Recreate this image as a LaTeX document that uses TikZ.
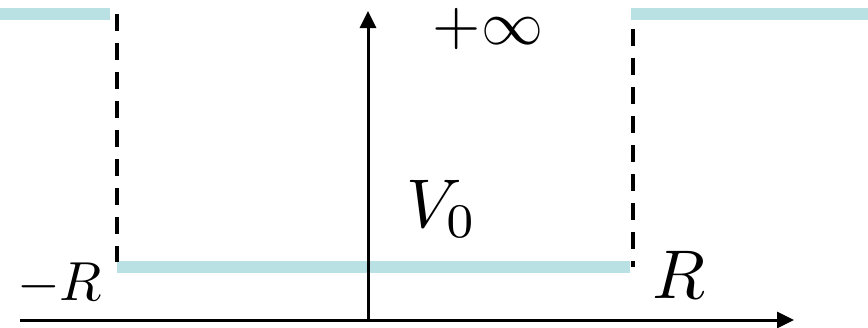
\documentclass[tikz,border=0pt]{standalone}
\usetikzlibrary{arrows.meta}
\definecolor{wellcyan}{RGB}{185,224,227}
\newcommand{\bigmath}[2]{\scalebox{#1}{$#2$}}
\tikzset{
  level/.style={draw=wellcyan, line width=12pt},
  wall/.style={draw=black, line width=4pt, dash pattern=on 17pt off 12pt},
  axis/.style={draw=black, line width=3pt, -{Triangle[length=17pt,width=16pt]}},
  lbl/.style={inner sep=0pt, anchor=base west}
}
\begin{document}
\begin{tikzpicture}[x=1pt,y=-1pt]
\useasboundingbox (0,0) rectangle (868,327);
% coordinates
\coordinate (tl1) at (0,14);
\coordinate (tl2) at (110,14);
\coordinate (tr1) at (631,14);
\coordinate (tr2) at (868,14);
\coordinate (b1) at (117,267);
\coordinate (b2) at (630,267);
\coordinate (lw1) at (117,14);
\coordinate (lw2) at (117,262);
\coordinate (rw1) at (633,29);
\coordinate (rw2) at (633,267);
\coordinate (xa) at (20,320);
\coordinate (xb) at (794,320);
\coordinate (ya) at (368,322);
\coordinate (yb) at (368,11);
% potential levels
\draw[level] (tl1) -- (tl2);
\draw[level] (tr1) -- (tr2);
\draw[level] (b1) -- (b2);
% walls
\draw[wall] (lw1) -- (lw2);
\draw[wall] (rw1) -- (rw2);
% axes
\draw[axis] (xa) -- (xb);
\draw[axis] (ya) -- (yb);
% labels
\node[lbl, anchor=base] (inf) at (488,44) {\bigmath{6.2}{+\infty}};
\node[lbl] (v0) at (406,227) {\bigmath{6.9}{V_0}};
\node[lbl] (mr) at (17,300) {\bigmath{5.5}{-R}};
\node[lbl] (r) at (652,298) {\bigmath{6.9}{R}};
\end{tikzpicture}
\end{document}
